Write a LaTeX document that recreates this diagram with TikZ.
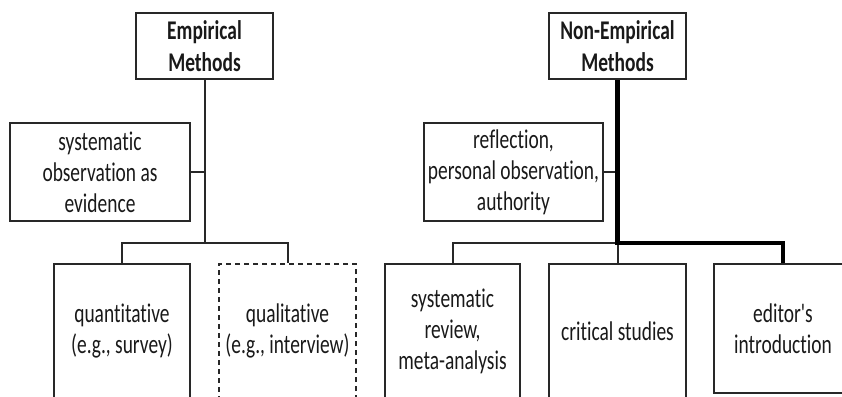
\documentclass[tikz,border=0pt]{standalone}
\usepackage{fontspec}
\setmainfont{Carlito}[FakeStretch=0.72, Ligatures={TeXOff, NoCommon}]
\usepackage{tikz}
\usepackage{xcolor}
\definecolor{boxline}{RGB}{40, 40, 40}
\definecolor{boxtext}{RGB}{25, 25, 25}

\begin{document}
\begin{tikzpicture}[x=1pt, y=-1pt,
  box/.style={draw=boxline, line width=2pt, rectangle, inner sep=0pt,
    align=center, text=boxtext, font=\fontsize{27}{31}\selectfont},
  head/.style={box, minimum width=137pt, minimum height=66pt,
    font=\fontsize{27}{32}\selectfont\bfseries},
  leaf/.style={box, minimum height=134pt},
  link/.style={draw=boxline, line width=2pt},
  heavy/.style={draw=black, line width=4.5pt}]

\useasboundingbox (0,0) rectangle (842,396);
\clip (0,0) rectangle (842,396);

% empirical side
\node[head] (emp) at (204.5,46) {Empirical\\Methods};
\node[box, minimum width=180pt, minimum height=98pt] (obs) at (100,172)
  {systematic\\observation as\\evidence};
\node[leaf, minimum width=136pt] (quan) at (122,331)
  {quantitative\\(e.g., survey)};
\node[leaf, minimum width=137pt, dashed, dash pattern=on 5pt off 4pt] (qual) at (287.5,331)
  {qualitative\\(e.g., interview)};
\coordinate (ej) at (emp.south |- 0,243);

\draw[link] (emp.south) -- (ej);
\draw[link] (obs.east) -- (obs.east -| emp.south);
\draw[link] (quan.north) |- (ej) -| (qual.north);

% non-empirical side
\node[head] (nonemp) at (617.5,46) {Non-Empirical\\Methods};
\node[box, minimum width=179pt, minimum height=98pt] (refl) at (513.5,172)
  {reflection,\\personal observation,\\authority};
\node[leaf, minimum width=135pt] (sysr) at (452.5,331)
  {systematic\\review,\\meta-analysis};
\node[leaf, minimum width=137pt] (crit) at (617.5,331) {critical studies};
\node[box, minimum width=138pt, minimum height=129pt] (edit) at (783,328.5)
  {editor's\\introduction};
\coordinate (nj) at (nonemp.south |- 0,243);

\draw[link] (refl.east) -- (refl.east -| nonemp.south);
\draw[link] (sysr.north) |- (nj);
\draw[link] (crit.north) -- (nj);
\draw[heavy] (nonemp.south) -- (nj) -| (edit.north);
\end{tikzpicture}
\end{document}
